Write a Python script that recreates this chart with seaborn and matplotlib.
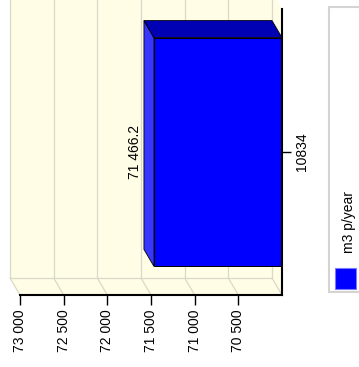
import matplotlib
matplotlib.use("Agg")
import matplotlib.pyplot as plt
import seaborn as sns
import pandas as pd
from matplotlib.patches import Polygon, Rectangle
from matplotlib.transforms import IdentityTransform
from matplotlib.ticker import FixedLocator, FuncFormatter

# --- data -------------------------------------------------------------
categories = ["10834"]
values = [71466.2]
series_name = "m3 p/year"
value_ticks = [70500, 71000, 71500, 72000, 72500, 73000]
value_range = (73000, 70000)

# --- style ------------------------------------------------------------
WALL = "#FFFDE6"
GRID = "#D9D9C8"
FRONT = "#0000FF"
SIDE = "#3636FF"
TOP = "#0000B4"
DEPTH = (-10, 17)  # pixel shift of the back plane (display coords)

sns.set_theme(style="white")
plt.rcParams["font.family"] = ["Liberation Sans", "DejaVu Sans"]
plt.rcParams["text.color"] = "black"
plt.rcParams["xtick.color"] = "black"
plt.rcParams["ytick.color"] = "black"

W, H = 359, 367
fig = plt.figure(figsize=(W / 100, H / 100), dpi=100)
ax = fig.add_axes([20 / W, (H - 295) / H, 262 / W, 286 / H])
ax.set_facecolor("none")

df = pd.DataFrame({"site": categories, "volume": values})
sns.barplot(data=df, x="volume", y="site", orient="h", color=FRONT,
            saturation=1, width=0.8, edgecolor="black", linewidth=0.7, ax=ax)
bars = list(ax.patches)
for b in bars:
    b.set_zorder(3)

ax.set_xlim(*value_range)
ax.set_ylim(0.5, -0.5)
ax.set_xlabel("")
ax.set_ylabel("")


def disp(x, y, back=False):
    px, py = ax.transData.transform((x, y))
    if back:
        px += DEPTH[0]
        py += DEPTH[1]
    return (px, py)


def poly(pts, fc, ec="none", lw=0.0, z=0.5):
    ax.add_patch(Polygon(pts, closed=True, facecolor=fc, edgecolor=ec,
                         linewidth=lw, transform=IdentityTransform(),
                         clip_on=False, zorder=z))


def seg(p, q, color=GRID, lw=0.9, z=0.6):
    ax.add_line(plt.Line2D([p[0], q[0]], [p[1], q[1]], color=color,
                           linewidth=lw, transform=IdentityTransform(),
                           clip_on=False, zorder=z))


x0, x1 = value_range
ytop, ybot = -0.5, 0.5

# walls and floor of the 3D box
poly([disp(x0, ytop, True), disp(x1, ytop, True),
      disp(x1, ybot, True), disp(x0, ybot, True)], WALL)
poly([disp(x0, ybot), disp(x1, ybot),
      disp(x1, ybot, True), disp(x0, ybot, True)], WALL)
poly([disp(x1, ytop), disp(x1, ybot),
      disp(x1, ybot, True), disp(x1, ytop, True)], WALL)

# grid on back wall and floor
for t in sorted(set(value_ticks + [x0, x1])):
    seg(disp(t, ytop, True), disp(t, ybot, True))
    seg(disp(t, ybot, True), disp(t, ybot))
seg(disp(x0, ybot, True), disp(x1, ybot, True))

# depth faces of the bars
for b in bars:
    val = b.get_x() + b.get_width()
    ya = b.get_y()
    yb = ya + b.get_height()
    yt = min(ya, yb)
    poly([disp(val, ya), disp(val, yb), disp(val, yb, True), disp(val, ya, True)],
         SIDE, ec="black", lw=0.6, z=2)
    poly([disp(val, yt), disp(x1, yt), disp(x1, yt, True), disp(val, yt, True)],
         TOP, ec="black", lw=0.6, z=2)
    ax.annotate(f"{val:,.1f}".replace(",", " "), xy=(val, (ya + yb) / 2),
                xytext=(-12, 0), textcoords="offset pixels", rotation=90,
                ha="right", va="center", fontsize=10, zorder=5)

# axes, ticks
sns.despine(ax=ax, left=True, top=True, right=False, bottom=False)
for side in ("bottom", "right"):
    ax.spines[side].set_color("black")
    ax.spines[side].set_linewidth(1.5)
    ax.spines[side].set_zorder(4)

ax.xaxis.set_major_locator(FixedLocator(value_ticks))
ax.xaxis.set_major_formatter(FuncFormatter(lambda v, p: f"{v:,.0f}".replace(",", " ")))
ax.tick_params(axis="x", bottom=True, length=7, width=1, pad=3.5,
               labelsize=10, labelrotation=90)
ax.yaxis.tick_right()
ax.tick_params(axis="y", right=True, left=False, length=6.5, width=1, pad=3,
               labelsize=10, labelrotation=90)
for lbl in ax.get_yticklabels():
    lbl.set_va("center")
ax.grid(False)

# legend panel
fig.add_artist(Rectangle((329, H - 292), 40, 285, transform=IdentityTransform(),
                         facecolor="white", edgecolor="#D4D4D4", linewidth=1.5))
fig.add_artist(Rectangle((335, H - 289), 21, 21, transform=IdentityTransform(),
                         facecolor=FRONT, edgecolor="#7A7AFF", linewidth=0.8))
fig.text(349 / W, (H - 222) / H, series_name, rotation=90, ha="center",
         va="center", fontsize=10)

fig.savefig("out.png", dpi=100)
